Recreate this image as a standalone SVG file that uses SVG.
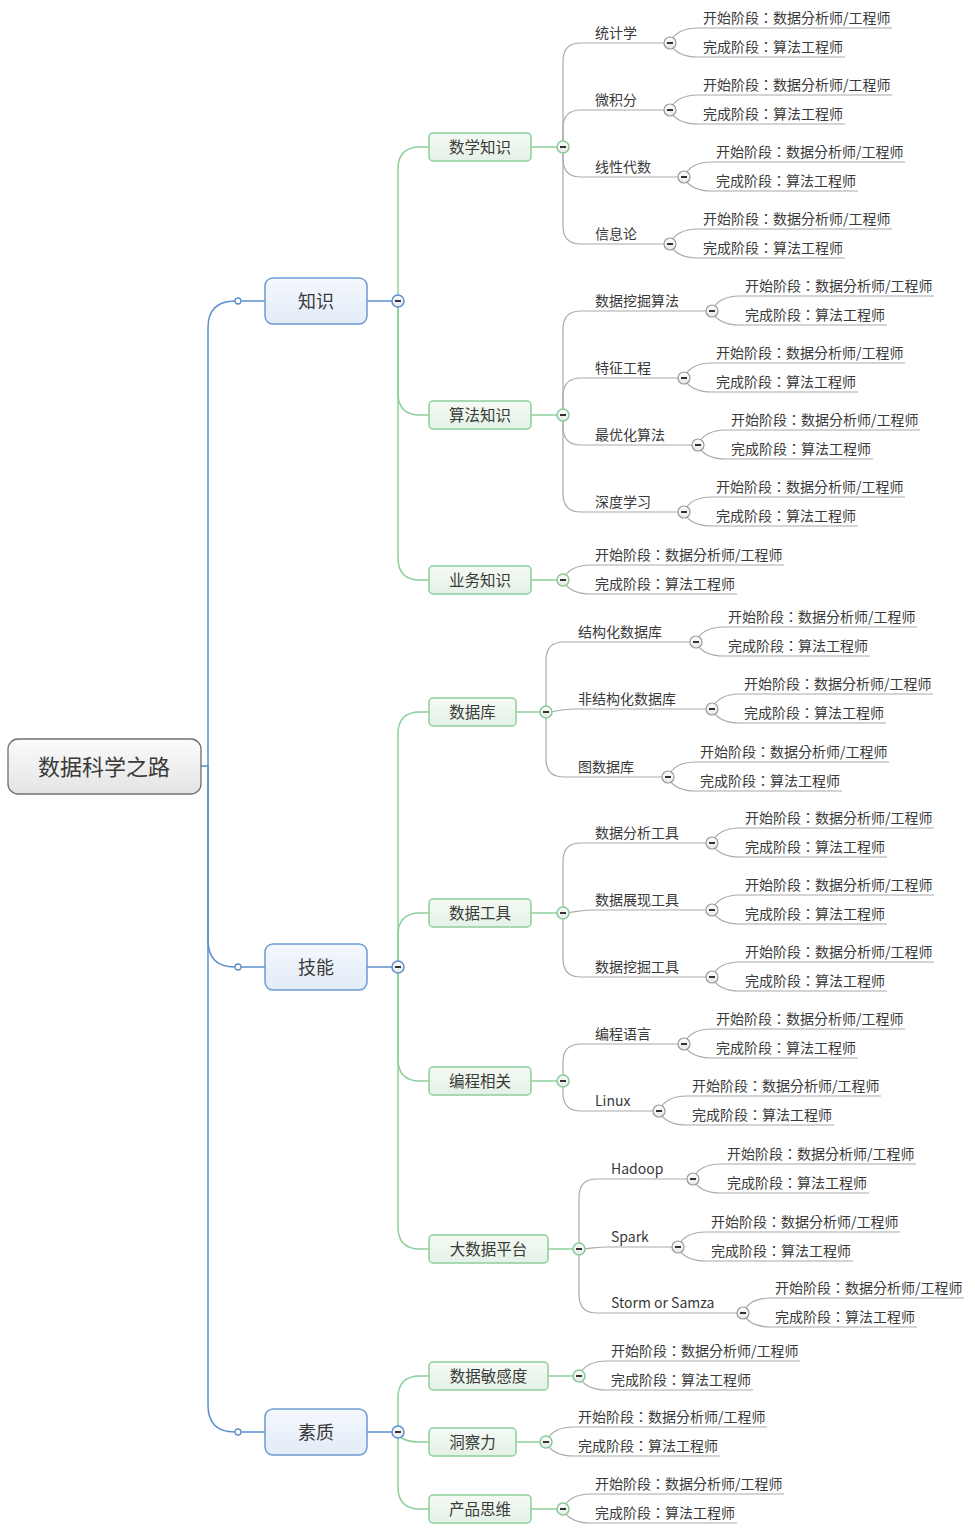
<svg xmlns="http://www.w3.org/2000/svg" xmlns:xlink="http://www.w3.org/1999/xlink" width="975" height="1531" viewBox="0 0 975 1531">
<defs>
<linearGradient id="gRoot" x1="0" y1="0" x2="0" y2="1"><stop offset="0" stop-color="#fbfbfb"/><stop offset="1" stop-color="#e4e4e4"/></linearGradient>
<linearGradient id="gL1" x1="0" y1="0" x2="0" y2="1"><stop offset="0" stop-color="#f5f8fd"/><stop offset="1" stop-color="#e2ebf7"/></linearGradient>
<linearGradient id="gL2" x1="0" y1="0" x2="0" y2="1"><stop offset="0" stop-color="#f5faf6"/><stop offset="1" stop-color="#e3f1e6"/></linearGradient>
<linearGradient id="gC" x1="0" y1="0" x2="0" y2="1"><stop offset="0" stop-color="#ffffff"/><stop offset="1" stop-color="#e8e8e8"/></linearGradient>
<g id="cB"><circle r="6" fill="url(#gC)" stroke="#5d8fcf" stroke-width="1.5"/><line x1="-3" x2="3" y1="0" y2="0" stroke="#333" stroke-width="2"/></g>
<g id="cG"><circle r="6" fill="url(#gC)" stroke="#86cc96" stroke-width="1.5"/><line x1="-3" x2="3" y1="0" y2="0" stroke="#333" stroke-width="2"/></g>
<g id="cK"><circle r="6" fill="url(#gC)" stroke="#9a9a9a" stroke-width="1.2"/><line x1="-3" x2="3" y1="0" y2="0" stroke="#333" stroke-width="2"/></g>
</defs>
<style>
text{font-family:"Noto Sans CJK SC","Liberation Sans",sans-serif;fill:#3a3a3a}
.lf text{font-family:"Noto Sans CJK TC","Noto Sans CJK SC",sans-serif}
.lf{font-size:14px}
.l3{font-size:14px}
.l2{font-size:15.5px;text-anchor:middle}
.l1{font-size:18px;text-anchor:middle}
.rt{font-size:22px;text-anchor:middle}
.bl{fill:none;stroke:#5d8fcf;stroke-width:1.5}
.gn{fill:none;stroke:#8dd09c;stroke-width:1.5}
.gy{fill:none;stroke:#aaaaaa;stroke-width:1.2}
.n0{fill:url(#gRoot);stroke:#6f6f6f;stroke-width:1.3}
.n1{fill:url(#gL1);stroke:#6b9bd2;stroke-width:1.5}
.n2{fill:url(#gL2);stroke:#8ccf9b;stroke-width:1.5}
.sm{fill:#fff;stroke:#5d8fcf;stroke-width:1.3}
</style>
<rect width="975" height="1531" fill="#ffffff"/>

<g id="connectors">
<path class="bl" d="M201 766H208"/>
<path class="bl" d="M208 766V328Q208 301 235 301"/>
<path class="bl" d="M208 766V940Q208 967 235 967"/>
<path class="bl" d="M208 766V1405Q208 1432 235 1432"/>
<path class="bl" d="M241 301H265M241 967H265M241 1432H265"/>
<circle class="sm" cx="238" cy="301" r="3"/>
<circle class="sm" cx="238" cy="967" r="3"/>
<circle class="sm" cx="238" cy="1432" r="3"/>
<path class="bl" d="M367 301H392M367 967H392M367 1432H392"/>
<path class="gn" d="M398 301V169Q398 147 420 147H429"/>
<path class="gn" d="M398 301V393Q398 415 420 415H429"/>
<path class="gn" d="M398 301V558Q398 580 420 580H429"/>
<path class="gn" d="M398 967V734Q398 712 420 712H429"/>
<path class="gn" d="M398 967V935Q398 913 420 913H429"/>
<path class="gn" d="M398 967V1059Q398 1081 420 1081H429"/>
<path class="gn" d="M398 967V1227Q398 1249 420 1249H429"/>
<path class="gn" d="M398 1432V1398Q398 1376 420 1376H429"/>
<path class="gn" d="M398 1432Q400 1442 420 1442H429"/>
<path class="gn" d="M398 1432V1487Q398 1509 420 1509H429"/>
<path class="gn" d="M531 147H557M531 415H557M531 580H557M516 712H540M531 913H557M531 1081H557M548 1249H573M548 1376H573M516 1442H540M531 1509H557"/>
<path class="gy" d="M563 147V61Q563 43 581 43H664"/>
<path class="gy" d="M563 147V128Q563 110 581 110H664"/>
<path class="gy" d="M563 147V159Q563 177 581 177H678"/>
<path class="gy" d="M563 147V226Q563 244 581 244H664"/>
<path class="gy" d="M563 415V329Q563 311 581 311H706"/>
<path class="gy" d="M563 415V396Q563 378 581 378H678"/>
<path class="gy" d="M563 415V427Q563 445 581 445H692"/>
<path class="gy" d="M563 415V494Q563 512 581 512H678"/>
<path class="gy" d="M546 712V660Q546 642 564 642H690"/>
<path class="gy" d="M546 712C556 712 560 709 575 709H706"/>
<path class="gy" d="M546 712V759Q546 777 564 777H662"/>
<path class="gy" d="M563 913V861Q563 843 581 843H706"/>
<path class="gy" d="M563 913C573 913 578 910 592 910H706"/>
<path class="gy" d="M563 913V959Q563 977 581 977H706"/>
<path class="gy" d="M563 1081V1062Q563 1044 581 1044H678"/>
<path class="gy" d="M563 1081V1093Q563 1111 581 1111H653"/>
<path class="gy" d="M579 1249V1197Q579 1179 597 1179H687"/>
<path class="gy" d="M579 1249C589 1249 594 1247 608 1247H672"/>
<path class="gy" d="M579 1249V1295Q579 1313 597 1313H737"/>
<path class="gy" d="M670 43Q676 28 698 28H892M670 43Q676 57 698 57H845"/>
<path class="gy" d="M670 110Q676 95 698 95H892M670 110Q676 124 698 124H845"/>
<path class="gy" d="M684 177Q690 162 712 162H905M684 177Q690 191 712 191H858"/>
<path class="gy" d="M670 244Q676 229 698 229H892M670 244Q676 258 698 258H845"/>
<path class="gy" d="M712 311Q718 296 740 296H934M712 311Q718 325 740 325H887"/>
<path class="gy" d="M684 378Q690 363 712 363H905M684 378Q690 392 712 392H858"/>
<path class="gy" d="M698 445Q704 430 726 430H920M698 445Q704 459 726 459H873"/>
<path class="gy" d="M684 512Q690 497 712 497H905M684 512Q690 526 712 526H858"/>
<path class="gy" d="M563 580Q569 565 591 565H784M563 580Q569 594 591 594H737"/>
<path class="gy" d="M696 642Q702 627 724 627H917M696 642Q702 656 724 656H870"/>
<path class="gy" d="M712 709Q718 694 740 694H933M712 709Q718 723 740 723H886"/>
<path class="gy" d="M668 777Q674 762 696 762H889M668 777Q674 791 696 791H842"/>
<path class="gy" d="M712 843Q718 828 740 828H934M712 843Q718 857 740 857H887"/>
<path class="gy" d="M712 910Q718 895 740 895H934M712 910Q718 924 740 924H887"/>
<path class="gy" d="M712 977Q718 962 740 962H934M712 977Q718 991 740 991H887"/>
<path class="gy" d="M684 1044Q690 1029 712 1029H905M684 1044Q690 1058 712 1058H858"/>
<path class="gy" d="M659 1111Q665 1096 687 1096H881M659 1111Q665 1125 687 1125H834"/>
<path class="gy" d="M693 1179Q699 1164 721 1164H916M693 1179Q699 1193 721 1193H869"/>
<path class="gy" d="M678 1247Q684 1232 706 1232H900M678 1247Q684 1261 706 1261H853"/>
<path class="gy" d="M743 1313Q749 1298 771 1298H964M743 1313Q749 1327 771 1327H917"/>
<path class="gy" d="M579 1376Q585 1361 607 1361H800M579 1376Q585 1390 607 1390H753"/>
<path class="gy" d="M546 1442Q552 1427 574 1427H767M546 1442Q552 1456 574 1456H720"/>
<path class="gy" d="M563 1509Q569 1494 591 1494H784M563 1509Q569 1523 591 1523H737"/>
<use xlink:href="#cB" x="398" y="301"/>
<use xlink:href="#cB" x="398" y="967"/>
<use xlink:href="#cB" x="398" y="1432"/>
<use xlink:href="#cG" x="563" y="147"/>
<use xlink:href="#cG" x="563" y="415"/>
<use xlink:href="#cG" x="563" y="580"/>
<use xlink:href="#cG" x="546" y="712"/>
<use xlink:href="#cG" x="563" y="913"/>
<use xlink:href="#cG" x="563" y="1081"/>
<use xlink:href="#cG" x="579" y="1249"/>
<use xlink:href="#cG" x="579" y="1376"/>
<use xlink:href="#cG" x="546" y="1442"/>
<use xlink:href="#cG" x="563" y="1509"/>
<use xlink:href="#cK" x="670" y="43"/>
<use xlink:href="#cK" x="670" y="110"/>
<use xlink:href="#cK" x="684" y="177"/>
<use xlink:href="#cK" x="670" y="244"/>
<use xlink:href="#cK" x="712" y="311"/>
<use xlink:href="#cK" x="684" y="378"/>
<use xlink:href="#cK" x="698" y="445"/>
<use xlink:href="#cK" x="684" y="512"/>
<use xlink:href="#cK" x="696" y="642"/>
<use xlink:href="#cK" x="712" y="709"/>
<use xlink:href="#cK" x="668" y="777"/>
<use xlink:href="#cK" x="712" y="843"/>
<use xlink:href="#cK" x="712" y="910"/>
<use xlink:href="#cK" x="712" y="977"/>
<use xlink:href="#cK" x="684" y="1044"/>
<use xlink:href="#cK" x="659" y="1111"/>
<use xlink:href="#cK" x="693" y="1179"/>
<use xlink:href="#cK" x="678" y="1247"/>
<use xlink:href="#cK" x="743" y="1313"/>
</g>

<g id="root"><rect class="n0" x="8" y="739" width="193" height="55" rx="10"/><text class="rt" x="104" y="775">数据科学之路</text></g>

<g id="n-zhishi"><rect class="n1" x="265" y="278" width="102" height="46" rx="8"/><text class="l1" x="316" y="307.5">知识</text></g>
<g id="n-jineng"><rect class="n1" x="265" y="944" width="102" height="46" rx="8"/><text class="l1" x="316" y="973.5">技能</text></g>
<g id="n-suzhi"><rect class="n1" x="265" y="1409" width="102" height="46" rx="8"/><text class="l1" x="316" y="1438.5">素质</text></g>

<g id="n-shuxue"><rect class="n2" x="429" y="133" width="102" height="28" rx="4"/><text class="l2" x="480" y="152.5">数学知识</text></g>
<g id="n-suanfa"><rect class="n2" x="429" y="401" width="102" height="28" rx="4"/><text class="l2" x="480" y="420.5">算法知识</text></g>
<g id="n-yewu"><rect class="n2" x="429" y="566" width="102" height="28" rx="4"/><text class="l2" x="480" y="585.5">业务知识</text></g>
<g id="n-shujuku"><rect class="n2" x="429" y="698" width="87" height="28" rx="4"/><text class="l2" x="472.5" y="717.5">数据库</text></g>
<g id="n-gongju"><rect class="n2" x="429" y="899" width="102" height="28" rx="4"/><text class="l2" x="480" y="918.5">数据工具</text></g>
<g id="n-biancheng"><rect class="n2" x="429" y="1067" width="102" height="28" rx="4"/><text class="l2" x="480" y="1086.5">编程相关</text></g>
<g id="n-dashuju"><rect class="n2" x="429" y="1235" width="119" height="28" rx="4"/><text class="l2" x="488.5" y="1254.5">大数据平台</text></g>
<g id="n-mingan"><rect class="n2" x="429" y="1362" width="119" height="28" rx="4"/><text class="l2" x="488.5" y="1381.5">数据敏感度</text></g>
<g id="n-dongcha"><rect class="n2" x="429" y="1428" width="87" height="28" rx="4"/><text class="l2" x="472.5" y="1447.5">洞察力</text></g>
<g id="n-chanpin"><rect class="n2" x="429" y="1495" width="102" height="28" rx="4"/><text class="l2" x="480" y="1514.5">产品思维</text></g>

<g id="l3-labels" class="l3">
<text x="595" y="38">统计学</text>
<text x="595" y="105">微积分</text>
<text x="595" y="172">线性代数</text>
<text x="595" y="239">信息论</text>
<text x="595" y="306">数据挖掘算法</text>
<text x="595" y="373">特征工程</text>
<text x="595" y="440">最优化算法</text>
<text x="595" y="507">深度学习</text>
<text x="578" y="637">结构化数据库</text>
<text x="578" y="704">非结构化数据库</text>
<text x="578" y="772">图数据库</text>
<text x="595" y="838">数据分析工具</text>
<text x="595" y="905">数据展现工具</text>
<text x="595" y="972">数据挖掘工具</text>
<text x="595" y="1039">编程语言</text>
<text x="595" y="1106">Linux</text>
<text x="611" y="1174">Hadoop</text>
<text x="611" y="1242">Spark</text>
<text x="611" y="1308">Storm or Samza</text>
</g>

<g id="leaves" class="lf">
<text x="703" y="23">开始阶段：数据分析师/工程师</text><text x="703" y="52">完成阶段：算法工程师</text>
<text x="703" y="90">开始阶段：数据分析师/工程师</text><text x="703" y="119">完成阶段：算法工程师</text>
<text x="716" y="157">开始阶段：数据分析师/工程师</text><text x="716" y="186">完成阶段：算法工程师</text>
<text x="703" y="224">开始阶段：数据分析师/工程师</text><text x="703" y="253">完成阶段：算法工程师</text>
<text x="745" y="291">开始阶段：数据分析师/工程师</text><text x="745" y="320">完成阶段：算法工程师</text>
<text x="716" y="358">开始阶段：数据分析师/工程师</text><text x="716" y="387">完成阶段：算法工程师</text>
<text x="731" y="425">开始阶段：数据分析师/工程师</text><text x="731" y="454">完成阶段：算法工程师</text>
<text x="716" y="492">开始阶段：数据分析师/工程师</text><text x="716" y="521">完成阶段：算法工程师</text>
<text x="595" y="560">开始阶段：数据分析师/工程师</text><text x="595" y="589">完成阶段：算法工程师</text>
<text x="728" y="622">开始阶段：数据分析师/工程师</text><text x="728" y="651">完成阶段：算法工程师</text>
<text x="744" y="689">开始阶段：数据分析师/工程师</text><text x="744" y="718">完成阶段：算法工程师</text>
<text x="700" y="757">开始阶段：数据分析师/工程师</text><text x="700" y="786">完成阶段：算法工程师</text>
<text x="745" y="823">开始阶段：数据分析师/工程师</text><text x="745" y="852">完成阶段：算法工程师</text>
<text x="745" y="890">开始阶段：数据分析师/工程师</text><text x="745" y="919">完成阶段：算法工程师</text>
<text x="745" y="957">开始阶段：数据分析师/工程师</text><text x="745" y="986">完成阶段：算法工程师</text>
<text x="716" y="1024">开始阶段：数据分析师/工程师</text><text x="716" y="1053">完成阶段：算法工程师</text>
<text x="692" y="1091">开始阶段：数据分析师/工程师</text><text x="692" y="1120">完成阶段：算法工程师</text>
<text x="727" y="1159">开始阶段：数据分析师/工程师</text><text x="727" y="1188">完成阶段：算法工程师</text>
<text x="711" y="1227">开始阶段：数据分析师/工程师</text><text x="711" y="1256">完成阶段：算法工程师</text>
<text x="775" y="1293">开始阶段：数据分析师/工程师</text><text x="775" y="1322">完成阶段：算法工程师</text>
<text x="611" y="1356">开始阶段：数据分析师/工程师</text><text x="611" y="1385">完成阶段：算法工程师</text>
<text x="578" y="1422">开始阶段：数据分析师/工程师</text><text x="578" y="1451">完成阶段：算法工程师</text>
<text x="595" y="1489">开始阶段：数据分析师/工程师</text><text x="595" y="1518">完成阶段：算法工程师</text>
</g>
</svg>
